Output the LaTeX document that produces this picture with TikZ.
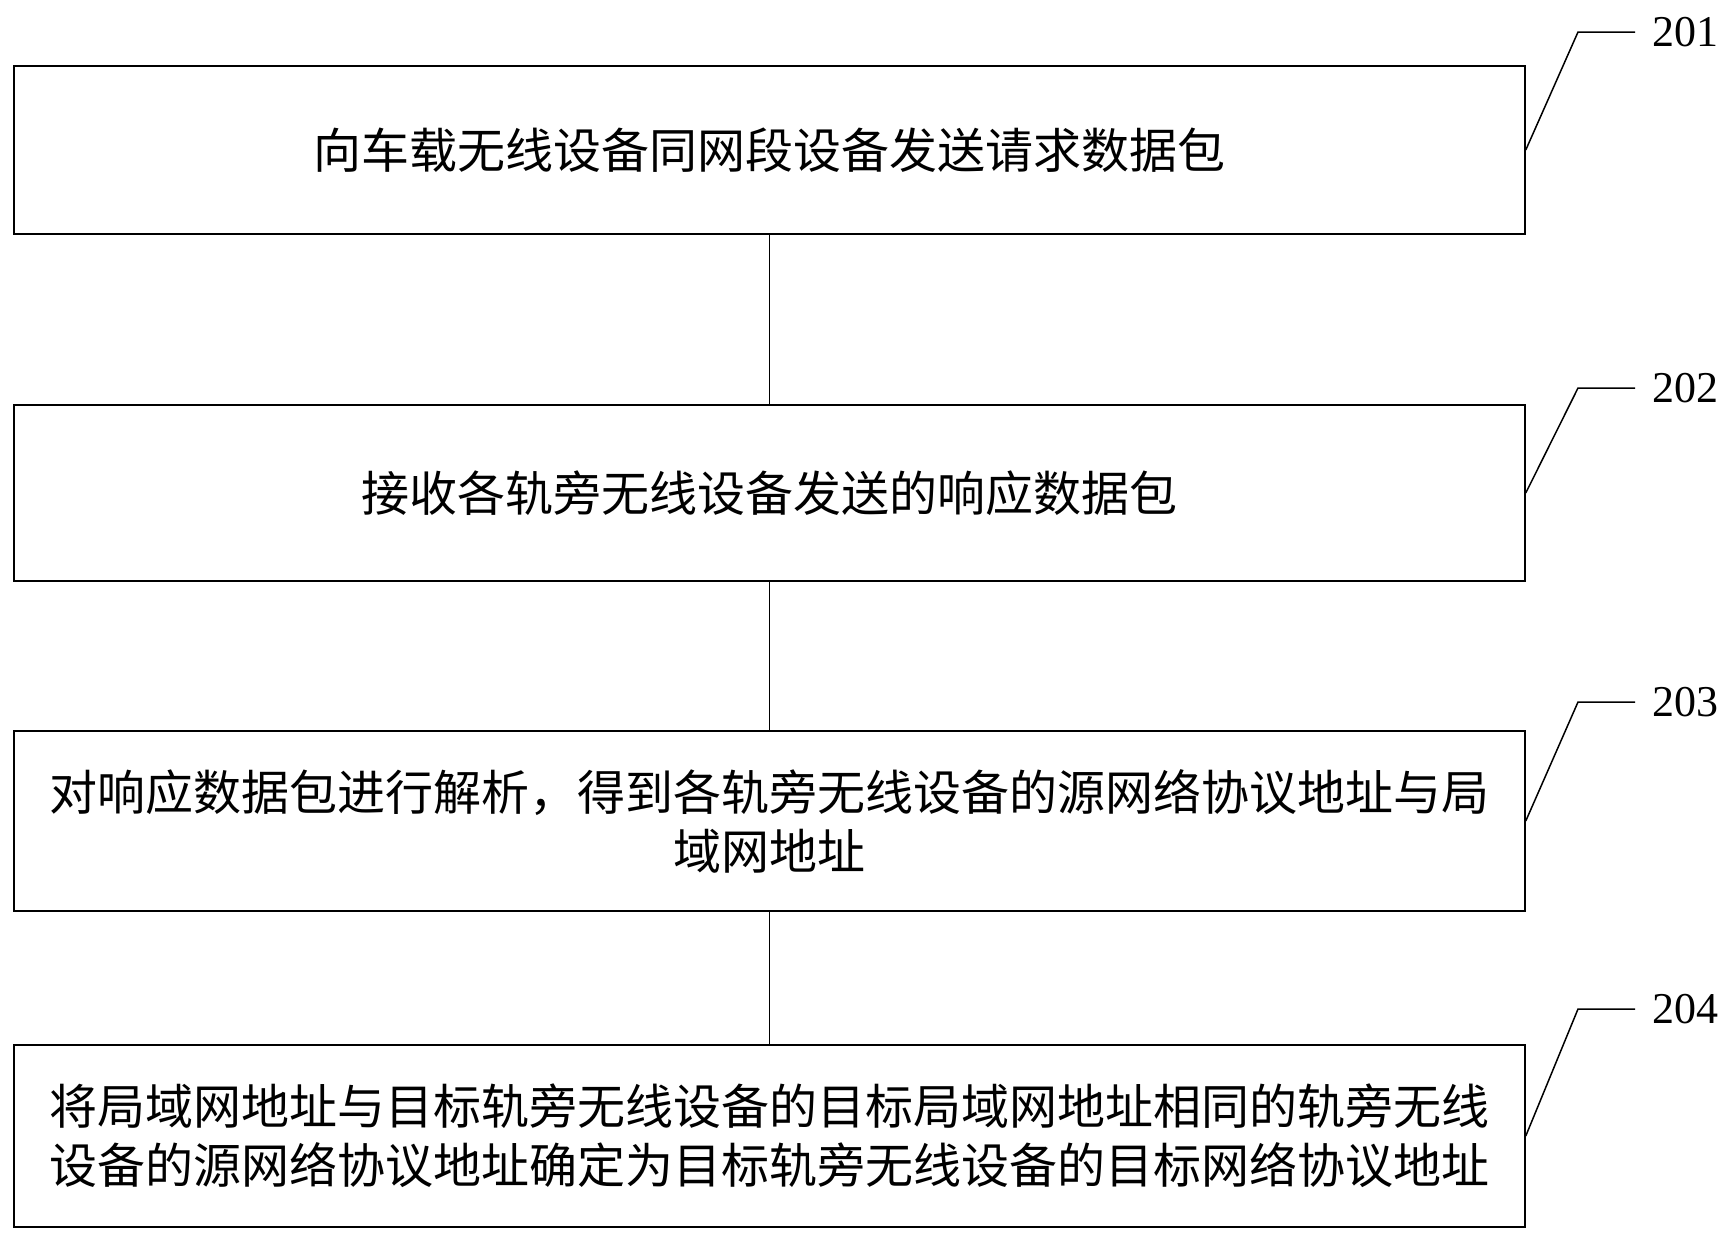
\documentclass[tikz,border=0pt]{standalone}
\usepackage{fontspec}
\setmainfont{Liberation Serif}
\newfontfamily\cjk{Noto Sans CJK SC}
\begin{document}
\begin{tikzpicture}[x=1pt,y=-1pt,
  stepbox/.style={draw, line width=1.5pt, minimum width=1511pt, inner sep=0pt,
    align=center, font=\cjk\fontsize{48}{59}\selectfont},
  lab/.style={inner xsep=17pt, inner ysep=0pt, anchor=west, font=\fontsize{44}{44}\selectfont},
  wire/.style={line width=1.5pt}]
\useasboundingbox (0,0) rectangle (1735,1235);
\node[stepbox, minimum height=168pt] (b1) at (769.5,150) {向车载无线设备同网段设备发送请求数据包};
\node[stepbox, minimum height=176pt] (b2) at (769.5,493) {接收各轨旁无线设备发送的响应数据包};
\node[stepbox, minimum height=180pt] (b3) at (769.5,821) {对响应数据包进行解析，得到各轨旁无线设备的源网络协议地址与局\\域网地址};
\node[stepbox, minimum height=182pt] (b4) at (769.5,1136) {将局域网地址与目标轨旁无线设备的目标局域网地址相同的轨旁无线\\设备的源网络协议地址确定为目标轨旁无线设备的目标网络协议地址};
\draw[wire] (b1.south) -- (b2.north);
\draw[wire] (b2.south) -- (b3.north);
\draw[wire] (b3.south) -- (b4.north);
\coordinate (e1) at (1578,32);
\coordinate (e2) at (1578,388);
\coordinate (e3) at (1578,702);
\coordinate (e4) at (1578,1009);
\node[lab] (l1) at (1635,32) {201};
\node[lab] (l2) at (1635,388) {202};
\node[lab] (l3) at (1635,702) {203};
\node[lab] (l4) at (1635,1009) {204};
\draw[wire] (b1.east) -- (e1) -- (l1.west);
\draw[wire] (b2.east) -- (e2) -- (l2.west);
\draw[wire] (b3.east) -- (e3) -- (l3.west);
\draw[wire] (b4.east) -- (e4) -- (l4.west);
\end{tikzpicture}
\end{document}
